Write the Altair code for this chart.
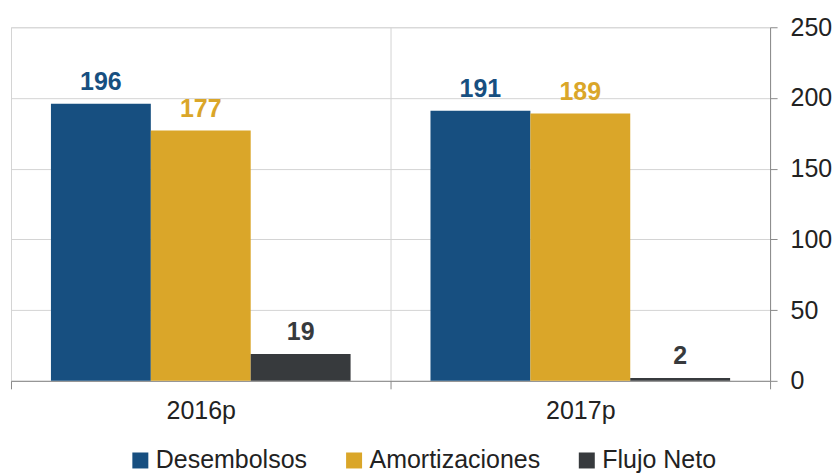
import altair as alt
import pandas as pd

years = ["2016p", "2017p"]
series = ["Desembolsos", "Amortizaciones", "Flujo Neto"]
desembolsos = [196, 191]
amortizaciones = [177, 189]
flujo_neto = [19, 2]
colors = ["#174f80", "#daa629", "#373a3d"]

rows = []
for i, y in enumerate(years):
    for s, vals in zip(series, [desembolsos, amortizaciones, flujo_neto]):
        rows.append({"year": y, "serie": s, "value": vals[i]})
df = pd.DataFrame(rows)

font = "Liberation Sans"
fs = 25
color_scale = alt.Scale(domain=series, range=colors)

x = alt.X("year:N", sort=years, title=None,
          scale=alt.Scale(paddingInner=0, paddingOuter=0),
          axis=alt.Axis(labelAngle=0, tickBand="extent", grid=True, gridColor="#d4d4d4",
                        domainColor="#8a8a8a", tickColor="#8a8a8a", tickSize=8,
                        labelFont=font, labelFontSize=fs, labelColor="#222222",
                        labelPadding=10))
xo = alt.XOffset("serie:N", sort=series, scale=alt.Scale(paddingInner=0, paddingOuter=0.4))
y = alt.Y("value:Q", title=None,
          scale=alt.Scale(domain=[0, 250]),
          axis=alt.Axis(orient="right", values=[0, 50, 100, 150, 200, 250], grid=True,
                        gridColor="#d4d4d4", domainColor="#8a8a8a", tickColor="#8a8a8a",
                        tickSize=7, labelFont=font, labelFontSize=fs, labelColor="#222222",
                        labelPadding=13))

bars = alt.Chart(df).mark_bar().encode(
    x=x, xOffset=xo, y=y,
    color=alt.Color("serie:N", sort=series, scale=color_scale,
                    legend=alt.Legend(title=None, orient="none", direction="horizontal",
                                      legendX=117, legendY=421, padding=0,
                                      symbolType="square", symbolSize=256,
                                      symbolStrokeWidth=0, labelFont=font, labelFontSize=fs,
                                      labelColor="#222222", columnPadding=34,
                                      labelOffset=3, labelLimit=400)),
)

labels = alt.Chart(df).mark_text(baseline="alphabetic", dy=-14, font=font,
                                  fontSize=fs, fontWeight="bold").encode(
    x=x, xOffset=xo, y=y,
    text=alt.Text("value:Q"),
    color=alt.Color("serie:N", sort=series, scale=color_scale, legend=None),
)

chart = alt.layer(bars, labels).properties(
    width=760, height=354,
    padding={"left": 2, "top": 7, "right": 0, "bottom": 0},
).configure_view(fill="#f9f9f9", stroke="#d4d4d4").configure(background="white")

chart.save("out.html", embed_options={"renderer": "svg", "actions": False})
